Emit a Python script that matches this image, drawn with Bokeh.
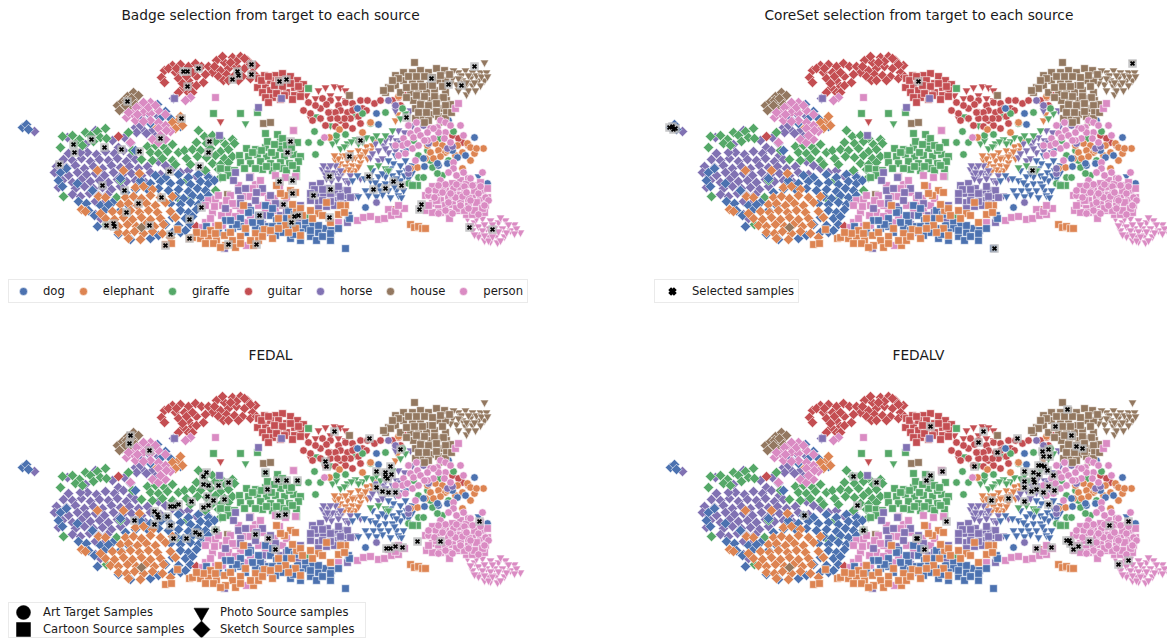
import math
from bokeh.plotting import figure
from bokeh.layouts import column, row
from bokeh.models import Legend, LegendItem, Spacer, Title
from bokeh.core.properties import value
from bokeh.embed import file_html
from bokeh.resources import INLINE

classes = ["dog", "elephant", "giraffe", "guitar", "horse", "house", "person"]
colors = {"dog": "#4c72b0", "elephant": "#dd8452", "giraffe": "#55a868", "guitar": "#c44e52",
          "horse": "#8172b3", "house": "#937860", "person": "#da8bc3"}
titles = ["Badge selection from target to each source", "CoreSet selection from target to each source", "FEDAL", "FEDALV"]

# ---- sketch samples
horse_sketch = [(67,137),(85,144),(95,130),(112,140),(124,137),(130,143),(118,147),(143,130),(135,127),(150,122),(148,113),(158,116),(142,119),(152,130),(87,152),(96,154),(105,151),(114,153),(123,150),(131,155),(63,159),(72,160),(81,158),(90,161),(99,159),(108,160),(117,158),(126,161),(135,159),(56,166),(66,167),(75,165),(84,168),(93,166),(102,168),(111,165),(120,167),(129,166),(138,168),(147,166),(58,173),(68,175),(77,172),(86,174),(95,173),(104,175),(113,172),(122,174),(131,173),(141,175),(150,172),(160,174),(62,180),(72,182),(81,179),(90,181),(99,180),(108,182),(117,179),(126,181),(135,180),(145,182),(58,187),(75,188),(84,186),(93,188),(102,187),(111,189),(120,186),(72,194),(80,196),(89,193),(98,195),(107,194),(95,201),(103,203),(165,165),(172,168),(180,172),(188,170),(196,176),(205,172),(210,178),(173,98),(158,161),(140,125),(136,132),(146,133),(155,136),(34,131),(95,214),(100,218),(80,152),(68,153),(54,172)]
giraffe_sketch = [(62,136),(72,135),(79,139),(85,132),(90,135),(97,131),(105,128),(100,137),(106,138),(75,143),(82,145),(93,141),(60,147),(128,132),(132,150),(147,146),(155,145),(164,147),(172,144),(150,152),(158,153),(167,151),(178,152),(184,150),(141,159),(152,160),(162,158),(172,160),(186,158),(175,164),(190,164),(198,130),(204,136),(212,135),(220,138),(232,139),(196,142),(206,143),(215,141),(225,144),(234,143),(192,149),(200,150),(210,148),(220,151),(228,149),(197,156),(206,157),(215,155),(224,158),(232,156),(212,163),(220,164),(228,162),(205,170),(218,169),(220,177),(215,190),(63,196),(120,180),(116,197),(186,180),(148,110),(106,224),(190,198),(178,198)]
dog_sketch = [(22,127),(26,124),(28,129),(155,175),(165,177),(178,174),(188,177),(198,174),(208,177),(140,182),(150,183),(160,181),(170,183),(180,182),(190,184),(200,181),(208,183),(214,180),(135,189),(148,190),(158,188),(168,190),(178,189),(188,191),(197,188),(205,190),(175,196),(183,198),(192,195),(200,197),(208,195),(170,203),(180,204),(190,202),(198,204),(205,202),(180,210),(188,212),(196,209),(172,217),(185,218),(192,216),(165,224),(178,225),(60,172),(58,180),(66,168),(77,183),(62,186),(78,201),(86,203),(92,190),(100,205),(94,215),(104,210),(112,202),(120,210),(128,205),(118,234),(130,239),(158,235),(150,238),(157,104),(165,111),(170,118),(160,118),(150,123),(180,126),(140,180),(125,192),(97,226),(120,178),(135,150),(88,210),(108,204),(172,232),(180,232),(190,224),(185,230)]
elephant_sketch = [(81,209),(85,211),(98,196),(105,197),(135,187),(143,186),(152,189),(125,197),(133,196),(141,198),(150,195),(160,197),(172,196),(120,204),(128,203),(137,205),(146,203),(155,205),(165,202),(112,211),(121,212),(130,210),(139,212),(148,210),(157,212),(170,211),(105,218),(114,219),(123,217),(132,219),(141,217),(150,219),(160,218),(175,217),(110,225),(118,226),(127,224),(136,226),(145,224),(154,226),(163,224),(118,232),(126,233),(134,231),(143,233),(152,231),(162,233),(128,238),(140,239),(170,237),(157,127),(170,125),(178,120),(172,122),(182,125),(180,116),(175,128),(139,173),(123,170),(97,170),(100,213)]
guitar_sketch = [(164,70),(161,77),(172,65),(180,64),(188,66),(175,72),(184,72),(195,63),(201,66),(178,78),(188,80),(196,76),(192,86),(183,87),(178,92),(188,92),(196,85),(203,82),(208,66),(216,60),(224,62),(232,57),(240,56),(247,60),(255,65),(212,72),(220,70),(228,68),(236,66),(244,68),(252,72),(218,76),(226,74),(234,75),(242,76),(250,78),(223,80),(118,136),(196,226),(168,68),(176,68),(186,76),(192,72),(182,83),(205,74),(214,66),(222,56),(236,61),(244,58),(250,64),(228,80),(238,80),(256,76),(230,62),(192,92),(164,82)]
house_sketch = [(117,105),(122,101),(127,96),(133,92),(135,98),(128,104),(122,108),(130,109),(138,95),(141,227),(126,100),(131,98),(125,105),(135,104),(119,110)]
person_sketch = [(126,117),(132,113),(140,105),(150,102),(143,112),(135,120),(150,113),(158,110),(165,114),(150,120),(158,122),(165,125),(170,131),(152,139),(158,142),(165,139),(130,142),(190,97),(185,100),(128,112),(143,102),(136,107),(148,107),(155,105),(137,114),(143,121),(158,128),(166,130),(160,135)]

# ---- cartoon samples
dog_cartoon = [(345,248),(270,215),(276,220),(282,232),(289,228),(297,225),(305,222),(312,225),(318,232),(325,228),(331,230),(310,236),(300,240),(290,238),(275,235),(268,226),(260,222),(255,228),(245,232),(232,228),(225,220),(218,232),(258,215),(265,205),(288,210),(305,228),(318,225),(316,240),(348,215),(349,218),(240,218),(330,240),(250,210),(206,226),(272,226),(280,222),(286,218),(293,234),(300,232),(310,230),(322,236),(330,233),(338,228),(262,230),(252,222),(240,226),(228,232),(236,224),(248,212),(272,208),(294,214),(230,220)]
elephant_cartoon = [(200,238),(208,236),(216,240),(224,235),(232,240),(240,236),(225,245),(235,247),(210,230),(218,225),(245,228),(255,233),(264,229),(272,238),(165,244),(171,243),(177,229),(189,238),(192,237),(243,205),(290,190),(284,195),(280,193),(295,192),(296,210),(291,218),(300,208),(310,210),(318,213),(322,215),(330,222),(345,205),(340,205),(278,218),(285,225),(295,228),(300,235),(326,202),(213,243),(203,233),(410,224),(414,227),(418,226),(422,228),(425,228),(253,245),(258,240),(276,185),(205,243),(220,247),(230,232),(240,243),(250,240),(262,236),(270,230),(278,228),(288,232),(292,204),(302,215),(312,218),(338,214),(344,212),(215,233),(196,232)]
giraffe_cartoon = [(213,113),(240,113),(257,112),(308,88),(246,148),(255,149),(265,147),(280,148),(267,141),(280,141),(297,142),(239,155),(248,156),(257,154),(266,156),(275,155),(284,156),(293,154),(300,156),(240,162),(250,163),(260,161),(270,163),(280,162),(289,163),(298,161),(227,169),(234,170),(262,169),(272,170),(282,168),(296,169),(220,168),(228,175),(222,177),(265,133),(277,134),(282,138),(308,217),(417,185),(412,185),(296,176),(252,152),(261,150),(271,152),(289,150),(286,145),(274,144),(291,147),(244,168),(255,168),(266,166),(276,166),(286,170),(292,165)]
guitar_cartoon = [(275,75),(282,73),(290,76),(297,80),(303,84),(257,87),(265,85),(270,80),(278,80),(286,83),(294,87),(300,90),(262,92),(270,90),(278,88),(286,92),(294,95),(272,97),(280,99),(292,99),(265,97),(258,78),(264,75),(293,130),(261,80),(268,76),(274,85),(282,86),(290,83),(268,102),(276,93),(284,95),(300,96),(298,86)]
horse_cartoon = [(312,185),(320,183),(327,188),(335,192),(342,190),(316,193),(323,195),(331,197),(338,200),(345,195),(318,202),(326,206),(334,205),(310,200),(343,203),(347,190),(219,135),(235,172),(233,180),(238,190),(245,188),(248,206),(255,200),(262,224),(224,248),(347,222),(262,188),(275,203),(300,205),(280,215),(298,218),(270,232),(281,98),(258,107),(174,98),(249,177),(314,189),(322,189),(330,193),(338,186),(322,200),(330,201),(340,196),(350,197),(318,208),(310,193),(256,192),(240,198),(270,195),(262,215),(286,212),(252,222),(225,208),(240,203)]
house_cartoon = [(414,62),(403,72),(395,75),(412,72),(420,70),(428,72),(436,68),(444,70),(395,85),(403,80),(412,82),(420,82),(429,85),(438,80),(445,80),(400,92),(388,87),(410,92),(418,90),(426,92),(434,90),(445,92),(413,100),(421,100),(430,100),(438,98),(446,100),(415,108),(424,108),(432,106),(442,108),(450,104),(422,116),(430,114),(438,116),(415,118),(349,95),(263,123),(270,122),(227,194),(385,92),(390,88),(383,90),(398,78),(408,76),(416,76),(424,76),(432,77),(440,75),(449,74),(392,80),(406,87),(414,86),(422,86),(432,85),(442,86),(406,97),(416,95),(424,96),(434,96),(443,97),(420,104),(428,105),(436,103),(445,105),(418,112),(426,112),(436,111),(446,112),(428,120),(445,118),(424,122),(451,112)]
person_cartoon = [(215,97),(208,200),(215,199),(222,205),(212,212),(205,222),(215,225),(230,195),(238,185),(250,176),(255,184),(262,192),(268,198),(249,196),(240,210),(245,222),(258,205),(265,212),(250,215),(275,210),(282,205),(295,210),(300,225),(292,231),(338,222),(275,175),(285,177),(295,176),(279,186),(260,180),(246,245),(202,227),(357,220),(363,217),(370,216),(378,219),(384,218),(388,209),(391,215),(398,214),(404,208),(395,211),(398,205),(432,186),(438,195),(445,188),(452,183),(460,180),(468,178),(475,185),(482,190),(487,188),(440,200),(448,196),(456,192),(464,190),(472,195),(480,200),(485,205),(432,203),(438,208),(445,205),(452,204),(460,200),(468,205),(476,208),(484,212),(426,210),(432,212),(448,212),(458,210),(466,214),(449,218),(472,214),(455,108),(458,103),(293,130),(425,195),(442,186),(458,186),(466,184),(474,190),(436,200),(452,194),(460,195),(468,198),(476,202),(428,205),(440,212),(456,208),(464,210),(474,210),(482,208),(480,182),(487,197),(218,195),(226,200),(235,205),(252,188),(205,205),(214,206),(228,212),(235,216),(221,215),(232,203),(242,196),(268,205),(274,198),(286,198),(222,225),(210,218)]

# ---- photo samples
dog_photo = [(370,180),(378,176),(386,170),(393,163),(400,165),(392,175),(399,172),(406,170),(378,185),(385,183),(392,183),(400,180),(408,178),(373,190),(380,190),(388,190),(396,190),(403,190),(390,197),(398,195),(372,170),(364,178),(357,175),(352,180),(365,190),(358,196),(368,195),(405,160),(395,155),(388,160),(412,172),(385,176),(478,176),(375,182),(382,173),(390,168),(396,178),(404,175),(410,183),(382,194),(394,186),(401,197),(376,196),(412,165),(406,150)]
elephant_photo = [(335,160),(342,155),(350,152),(358,150),(366,146),(372,145),(340,163),(347,160),(355,157),(363,154),(370,150),(345,166),(352,165),(360,162),(367,158),(355,170),(350,172),(329,167),(337,168),(395,120),(397,114),(338,158),(345,155),(352,158),(360,156),(365,151),(348,169),(358,166),(343,171),(374,141),(334,155)]
giraffe_photo = [(340,148),(347,143),(355,139),(362,141),(372,138),(332,143),(380,140),(385,135),(392,130),(370,167),(378,165),(385,168),(388,170),(347,195),(320,118),(315,116),(330,125),(245,123),(355,115),(400,118),(405,113),(336,140),(344,146),(351,141),(358,143),(366,137),(376,135)]
guitar_photo = [(325,87),(318,90),(334,86),(340,87),(345,90),(306,95),(315,98),(310,118),(220,121),(330,95),(338,98),(345,100),(443,97),(393,208)]
horse_photo = [(322,169),(328,168),(335,172),(330,175),(325,174),(340,175),(345,180),(331,180),(338,178),(332,172),(326,178),(348,182),(360,178),(350,175),(378,160),(370,157),(382,158),(388,152),(395,150),(403,152),(378,150),(383,145),(355,195),(390,137),(396,140),(404,132),(398,130),(412,125),(420,120),(410,110),(395,110),(400,106),(327,172),(335,165),(340,170),(323,165),(330,165),(372,153),(385,148),(392,145),(400,142),(404,145),(385,140),(375,143)]
house_photo = [(452,78),(458,72),(465,70),(472,72),(480,72),(486,72),(456,84),(462,80),(470,78),(478,80),(484,80),(458,90),(465,86),(472,85),(480,85),(453,70),(484,62),(466,94),(449,75),(461,75),(468,75),(476,75),(458,78),(466,82),(474,82),(450,83),(468,90),(475,90),(481,76),(487,76)]
person_photo = [(467,218),(474,222),(482,218),(490,220),(498,222),(505,220),(514,224),(520,232),(472,230),(478,226),(486,228),(494,228),(502,228),(510,230),(480,234),(488,236),(496,235),(504,236),(490,241),(497,242),(484,240),(478,236),(470,225),(476,218),(484,224),(492,224),(500,217),(508,224),(516,228),(474,234),(482,230),(490,231),(498,231),(506,232),(514,233),(488,240),(492,236),(500,240),(484,235)]

# ---- art samples
dog_art = [(474,137),(487,183),(378,124),(376,113),(357,108),(365,207),(438,165),(424,166),(423,158),(448,120),(440,212),(437,163),(457,157),(447,163),(452,150),(465,155)]
elephant_art = [(483,148),(474,153),(467,143),(470,147),(462,168),(462,152),(457,145),(427,145),(435,143),(442,145),(430,152),(438,150),(445,152),(425,158),(433,158),(440,156),(448,150),(417,167),(410,168),(339,129),(329,137),(362,132),(398,96),(447,150),(370,122),(455,155),(470,160),(476,148)]
giraffe_art = [(314,131),(320,142),(308,142),(315,154),(336,135),(345,134),(362,113),(370,123),(385,112),(408,183),(418,177),(423,177),(432,167),(442,175),(437,173),(413,140),(418,155),(448,160),(439,138),(453,131),(427,150),(402,108),(430,160)]
guitar_art = [(303,110),(310,113),(320,108),(330,112),(338,105),(345,102),(352,103),(360,100),(367,100),(374,103),(322,98),(330,100),(340,110),(347,112),(355,108),(320,118),(330,118),(340,120),(350,118),(358,116),(345,125),(352,128),(360,123),(315,105),(325,125),(335,126),(398,97),(405,95),(392,100),(400,105),(452,135),(462,142),(458,138),(468,145),(380,100),(308,102),(326,104),(335,112),(344,118),(352,110),(362,108),(337,118),(328,112),(312,120),(366,110)]
horse_art = [(376,202),(447,148),(428,143),(423,125),(408,173),(408,168),(388,100),(395,105),(452,146)]
house_art = [(436,128),(440,122)]
person_art = [(460,125),(463,135),(324,137),(440,120),(445,122),(450,125),(437,127),(430,128),(427,132),(417,130),(410,133),(413,137),(420,135),(403,138),(402,145),(407,143),(412,148),(398,155),(405,153),(415,160),(445,132),(438,132),(433,138),(427,140),(453,162),(453,168),(482,172),(440,180),(448,172),(456,175),(463,172),(470,178),(445,184),(453,188),(428,195),(435,190),(442,192),(455,197),(462,196),(470,200),(478,193),(485,197),(488,200),(445,210),(438,213),(452,213),(460,205),(468,208),(478,214),(484,205),(428,190),(434,197),(448,202),(456,184),(464,186),(472,185),(480,186),(438,185),(450,193),(466,192),(408,125),(416,122),(424,140),(433,128),(444,138),(450,142),(418,145),(395,145)]

# ---- selected samples per panel
selected_badge = [(127,101),(183,71),(187,71),(198,68),(251,64),(237,71),(238,75),(251,74),(232,79),(187,86),(181,118),(160,138),(91,139),(73,144),(74,152),(104,147),(121,149),(139,151),(209,141),(208,152),(59,164),(199,166),(169,171),(102,185),(124,190),(161,197),(138,203),(201,207),(126,212),(189,219),(259,215),(106,225),(113,223),(114,226),(149,225),(170,234),(189,238),(165,245),(228,244),(256,244),(279,81),(286,79),(290,141),(287,152),(279,181),(292,180),(292,193),(313,195),(330,189),(283,204),(294,216),(298,215),(291,222),(329,217),(431,78),(448,84),(461,85),(474,66),(406,117),(360,140),(349,156),(329,176),(368,176),(373,189),(385,188),(393,181),(401,185),(421,204),(419,209),(469,227),(492,229)]
selected_coreset = [(21,127),(24,126),(27,128),(25,129),(270,81),(484,63),(384,170),(346,248)]
selected_fedal = [(130,95),(129,103),(149,110),(206,132),(203,136),(203,144),(208,145),(218,145),(228,142),(207,156),(213,160),(224,159),(191,161),(178,164),(170,166),(174,166),(203,167),(208,165),(154,171),(157,174),(158,177),(167,176),(134,180),(154,184),(170,185),(195,192),(199,194),(215,190),(173,198),(186,198),(255,194),(268,198),(265,132),(267,149),(334,91),(369,98),(400,109),(325,121),(326,126),(390,126),(376,131),(385,132),(385,136),(387,138),(391,134),(277,140),(286,140),(297,140),(376,147),(382,151),(388,152),(395,152),(278,175),(285,174),(275,209),(386,208),(390,208),(395,206),(402,207),(417,201),(440,201),(479,181)]
selected_fedalv = [(205,136),(228,142),(209,165),(156,175),(215,190),(268,198),(282,86),(335,91),(330,102),(369,98),(349,112),(419,69),(407,86),(423,95),(428,106),(434,108),(394,111),(400,109),(395,116),(401,116),(326,126),(294,131),(282,135),(278,140),(376,131),(385,132),(390,134),(399,130),(405,135),(390,125),(393,125),(396,126),(376,141),(385,139),(386,142),(376,147),(383,151),(388,149),(395,152),(400,146),(406,150),(343,160),(360,158),(376,161),(400,164),(298,181),(461,185),(480,181),(269,198),(276,209),(388,208),(403,207),(418,200),(421,200),(422,203),(430,206),(425,209),(441,201),(470,224),(480,220)]

domain_labels = ["Art Target Samples", "Cartoon Source samples", "Photo Source samples", "Sketch Source samples"]

# draw order: one group per domain
series = [
    ("diamond", [("horse", horse_sketch), ("giraffe", giraffe_sketch), ("dog", dog_sketch), ("elephant", elephant_sketch), ("guitar", guitar_sketch), ("house", house_sketch), ("person", person_sketch)]),
    ("triangle", [("guitar", guitar_photo), ("house", house_photo), ("person", person_photo), ("elephant", elephant_photo), ("horse", horse_photo), ("dog", dog_photo), ("giraffe", giraffe_photo)]),
    ("circle", [("guitar", guitar_art), ("giraffe", giraffe_art), ("elephant", elephant_art), ("dog", dog_art), ("horse", horse_art), ("house", house_art)]),
    ("square", [("guitar", guitar_cartoon), ("giraffe", giraffe_cartoon), ("house", house_cartoon), ("person", person_cartoon), ("horse", horse_cartoon), ("dog", dog_cartoon), ("elephant", elephant_cartoon)]),
    ("circle", [("person", person_art)]),
]
STYLE = {
    "diamond": dict(marker="square", size=7.4, angle=math.pi / 4),
    "triangle": dict(marker="inverted_triangle", size=8.5),
    "circle": dict(marker="circle", size=7.6),
    "square": dict(marker="square", size=7.6),
}
FONT = "DejaVu Sans"
LEFT_W, RIGHT_W, GAP = 540, 519, 108
TOP_H, BOTTOM_H = 340, 298
FRAME_TOP = 26


def panel(title, selected, width, height, align, offset):
    p = figure(width=width, height=height, x_range=(0, width), y_range=(height, FRAME_TOP),
               output_backend="svg", toolbar_location=None, min_border_left=0, min_border_right=0,
               min_border_bottom=0, min_border_top=FRAME_TOP, outline_line_color=None,
               x_axis_location=None, y_axis_location=None, background_fill_color="white",
               border_fill_color="white")
    p.grid.visible = False
    p.title = Title(text=title, align=align, offset=offset, text_font=FONT, text_font_size="13.75px",
                    text_font_style="normal", text_color="#1a1a1a", standoff=8)
    for shape, groups in series:
        for cls, pts in groups:
            p.scatter([a for a, _ in pts], [b for _, b in pts], fill_color=colors[cls], line_color="white",
                      line_width=0.6, **STYLE[shape])
    sx = [a for a, _ in selected]
    sy = [b for _, b in selected]
    p.scatter(sx, sy, marker="square", size=8.5, fill_color="#b9babc", line_color=None, fill_alpha=0.8)
    p.scatter(sx, sy, marker="x", size=5.5, line_color="#000000", line_width=1.7)
    return p


def add_legend(p, items, **kw):
    legend = Legend(items=items, label_text_font=FONT, label_text_color="#1a1a1a", label_text_font_size="11.6px",
                    border_line_color="#d5d5d5", border_line_width=1, margin=0, **kw)
    p.add_layout(legend, "center")


p1 = panel(titles[0], selected_badge, LEFT_W, TOP_H, "center", 0)
p2 = panel(titles[1], selected_coreset, RIGHT_W, TOP_H, "left", 116)
p3 = panel(titles[2], selected_fedal, LEFT_W, BOTTOM_H, "center", 0)
p4 = panel(titles[3], selected_fedalv, RIGHT_W, BOTTOM_H, "left", 244)

NO_POINT = [float("nan")]
class_items = [LegendItem(label=value(c), renderers=[p1.scatter(x=NO_POINT, y=NO_POINT, marker="circle", size=8, fill_color=colors[c], line_color="white", line_width=0.5)]) for c in classes]
add_legend(p1, class_items, orientation="horizontal", location=(8, 37), glyph_width=20, glyph_height=20,
           label_standoff=10, spacing=8, padding=(4, 1))

sel_r = p2.scatter(x=NO_POINT, y=NO_POINT, marker="x", size=10, line_color="black", line_width=4)
add_legend(p2, [LegendItem(label=value("Selected samples"), renderers=[sel_r])], location=(6, 37), glyph_width=26, glyph_height=20,
           label_standoff=7, padding=(4, 1))

# domain key: the legend carries the labels, larger markers sit in its glyph slots
LEGEND_COL_X = [23, 201]
LEGEND_ROW_Y = [272, 289]
domain_shapes = ["circle", "square", "triangle", "diamond"]
for i, shape in enumerate(domain_shapes):
    style = dict(STYLE[shape])
    style["size"] = {"circle": 14, "square": 14, "triangle": 15, "diamond": 12}[shape]
    p3.scatter([LEGEND_COL_X[i // 2]], [LEGEND_ROW_Y[i % 2]], fill_color="black", line_color="black", line_width=0.5, **style)
dom_r = [p3.scatter(x=NO_POINT, y=NO_POINT, marker="circle", size=1, fill_alpha=0, line_alpha=0) for _ in domain_labels]
dom_items = [LegendItem(label=value(l), renderers=[r]) for l, r in zip(domain_labels, dom_r)]
add_legend(p3, dom_items, orientation="vertical", nrows=2, location=(8, 0), glyph_width=29, glyph_height=17,
           label_standoff=4, spacing=0, padding=(1, 0), label_width=144, background_fill_alpha=0)

layout = column(row(p1, Spacer(width=GAP), p2), row(p3, Spacer(width=GAP), p4), spacing=0)
open("out.html", "w").write(file_html(layout, INLINE))
